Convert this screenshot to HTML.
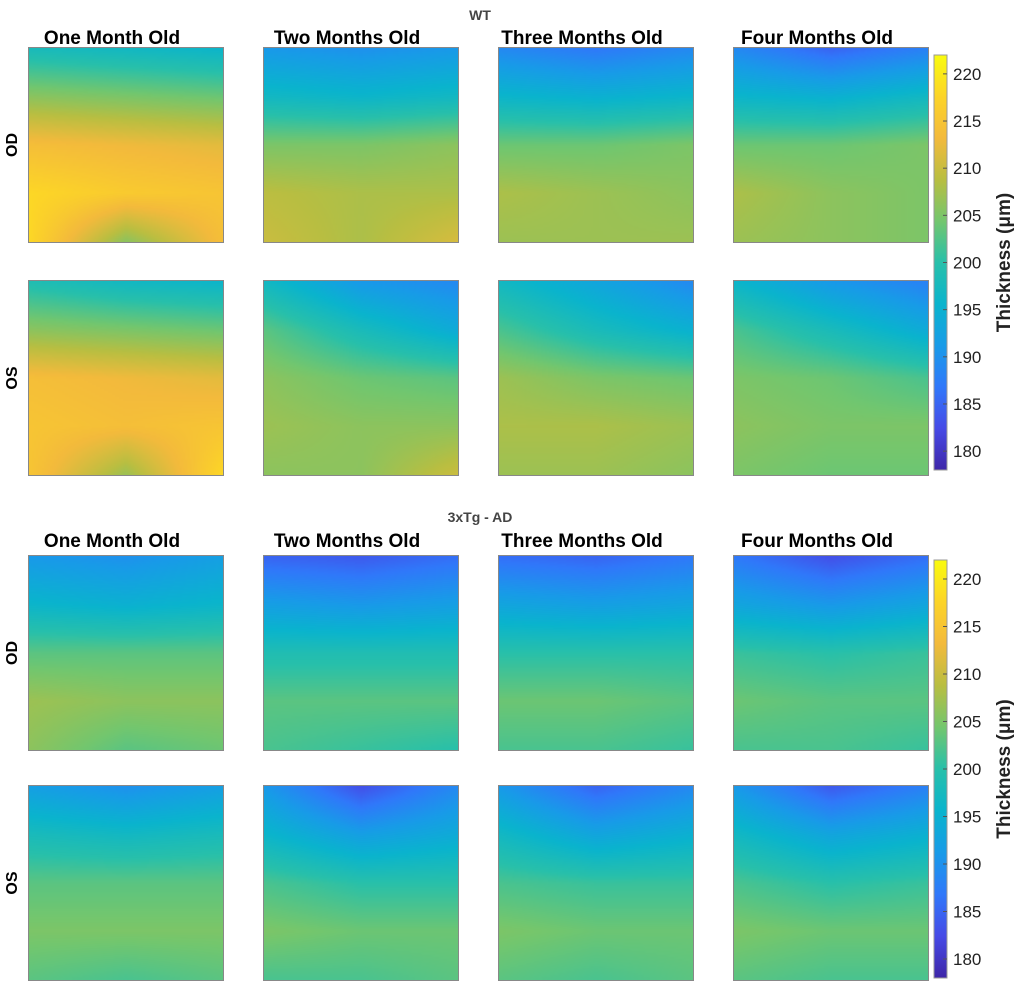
<!DOCTYPE html>
<html><head><meta charset="utf-8"><style>
body{margin:0;background:#fff;width:1020px;height:984px;position:relative;overflow:hidden;font-family:"Liberation Sans",sans-serif}
canvas{position:absolute;image-rendering:auto;box-sizing:border-box;border:1px solid #888}
</style></head><body>
<svg id="s" width="1020" height="984" style="position:absolute;left:0;top:0"></svg>
<script>
const groups=["WT","3xTg - AD"];
const months=["One Month Old","Two Months Old","Three Months Old","Four Months Old"];
const eyes=["OD","OS"];
const cbTicks=[180,185,190,195,200,205,210,215,220];
const vmin=178, vmax=222;
// thickness grids: 5 rows (top->bottom) x 3 cols (left, mid, right)
const wtOD1=[[198,197,196],[206,205,204],[214,213,212],[218,216,215],[218,206,214]];
const wtOD2=[[191,190,191],[197,196,197],[205,205,206],[209,208,208],[210,208,211]];
const wtOD3=[[189,187,189],[196,195,196],[204,204,205],[208,207,206],[207,207,207]];
const wtOD4=[[189,185,188],[196,195,197],[204,204,205],[208,206,205],[207,206,205]];
const wtOS1=[[199,197,196],[206,205,204],[214,213,212],[215,214,215],[215,207,218]];
const wtOS2=[[197,191,189],[203,198,194],[206,204,203],[207,206,206],[206,206,210]];
const wtOS3=[[197,193,189],[202,198,195],[207,205,204],[208,208,207],[207,207,206]];
const wtOS4=[[196,191,188],[202,198,194],[205,204,202],[206,205,205],[205,204,204]];
const adOD1=[[191,190,192],[196,195,196],[203,203,203],[207,206,206],[206,203,204]];
const adOD2=[[185,184,186],[192,191,192],[199,199,199],[203,203,203],[202,201,200]];
const adOD3=[[186,185,187],[193,192,193],[200,200,200],[204,204,203],[202,202,201]];
const adOD4=[[187,183,186],[193,191,193],[201,200,201],[204,203,203],[202,202,201]];
const adOS1=[[192,190,192],[198,197,198],[203,203,203],[205,205,205],[203,202,203]];
const adOS2=[[191,183,189],[196,192,194],[202,200,200],[205,204,204],[202,202,203]];
const adOS3=[[191,185,189],[197,193,195],[202,201,201],[205,204,204],[203,202,203]];
const adOS4=[[191,184,188],[197,193,195],[202,200,201],[205,204,204],[203,202,202]];
const panels=[[wtOD1,wtOD2,wtOD3,wtOD4],[wtOS1,wtOS2,wtOS3,wtOS4],[adOD1,adOD2,adOD3,adOD4],[adOS1,adOS2,adOS3,adOS4]];

const stops=[[62,38,168],[70,74,230],[48,120,250],[24,155,232],[10,180,205],[40,192,170],[115,198,110],[185,190,65],[243,186,60],[252,212,40],[249,251,14]];
function parula(v){let t=Math.max(0,Math.min(1,(v-vmin)/(vmax-vmin)))*10;let i=Math.min(9,Math.floor(t)),f=t-i;
 return stops[i].map((c,k)=>Math.round(c+(stops[i+1][k]-c)*f));}
const colX=[28,263,498,733], rowY=[47,280,555,785], PS=196;
const cbY=[[55,470],[560,978]];
function yCb(g,v){const [a,b]=cbY[g];return b-(v-vmin)/(vmax-vmin)*(b-a);}
const svg=document.getElementById('s');const NS='http://www.w3.org/2000/svg';
function txt(x,y,s,sz,opt){const e=document.createElementNS(NS,'text');e.setAttribute('x',x);e.setAttribute('y',y);e.setAttribute('font-size',sz);e.setAttribute('font-family','Liberation Sans, sans-serif');
 if(opt.bold)e.setAttribute('font-weight','bold');e.setAttribute('fill',opt.fill||'#000');e.setAttribute('text-anchor',opt.anchor||'middle');if(opt.rot)e.setAttribute('transform','rotate(-90 '+x+' '+y+')');e.textContent=s;svg.appendChild(e);return e;}
for(let g=0;g<2;g++){
 const gt=txt(480,g?522:20,groups[g],14,{bold:1,fill:'#444'});
 
 
 for(let m=0;m<4;m++){const mt=txt(colX[m]+PS/2-14,rowY[g*2]-(g?8:3),months[m],19,{bold:1});
  
  }
 for(let e=0;e<2;e++){const et=txt(17,rowY[g*2+e]+PS/2,eyes[e],16,{bold:1,rot:1});
  
  }
 const [a,b]=cbY[g];
 const grad=document.createElementNS(NS,'linearGradient');grad.id='cb'+g;grad.setAttribute('x1',0);grad.setAttribute('y1',1);grad.setAttribute('x2',0);grad.setAttribute('y2',0);
 for(let i=0;i<=20;i++){const st=document.createElementNS(NS,'stop');st.setAttribute('offset',i/20);const c=parula(vmin+(vmax-vmin)*i/20);st.setAttribute('stop-color','rgb('+c+')');grad.appendChild(st);}
 svg.appendChild(grad);
 const r=document.createElementNS(NS,'rect');r.setAttribute('x',934);r.setAttribute('y',a);r.setAttribute('width',13);r.setAttribute('height',b-a);r.setAttribute('fill','url(#cb'+g+')');r.setAttribute('stroke','#999');
 
 
 svg.appendChild(r);
 cbTicks.forEach(v=>{const y=yCb(g,v);const l=document.createElementNS(NS,'line');l.setAttribute('x1',943);l.setAttribute('x2',947);l.setAttribute('y1',y);l.setAttribute('y2',y);l.setAttribute('stroke','#555');svg.appendChild(l);
  const tl=txt(953,y+6,String(v),17,{anchor:'start',fill:'#222'});
  
  });
 const cl=txt(1010,(a+b)/2,'Thickness (μm)',19,{bold:1,rot:1,fill:'#222'});
 
 
}
const N=98;
for(let r=0;r<4;r++)for(let c=0;c<4;c++){
 const grid=panels[r][c];const cv=document.createElement('canvas');cv.width=N;cv.height=N;
 cv.style.left=colX[c]+'px';cv.style.top=rowY[r]+'px';cv.style.width=PS+'px';cv.style.height=PS+'px';
 
 
 const ctx=cv.getContext('2d');const img=ctx.createImageData(N,N);
 const R=grid.length,C=grid[0].length;
 for(let y=0;y<N;y++)for(let x=0;x<N;x++){
  const gy=y/(N-1)*(R-1),gx=x/(N-1)*(C-1);const y0=Math.min(R-2,Math.floor(gy)),x0=Math.min(C-2,Math.floor(gx));const fy=gy-y0,fx=gx-x0;
  const v=(grid[y0][x0]*(1-fx)+grid[y0][x0+1]*fx)*(1-fy)+(grid[y0+1][x0]*(1-fx)+grid[y0+1][x0+1]*fx)*fy;
  const col=parula(v);const i=(y*N+x)*4;img.data[i]=col[0];img.data[i+1]=col[1];img.data[i+2]=col[2];img.data[i+3]=255;}
 ctx.putImageData(img,0,0);document.body.appendChild(cv);
}
</script>
</body></html>
